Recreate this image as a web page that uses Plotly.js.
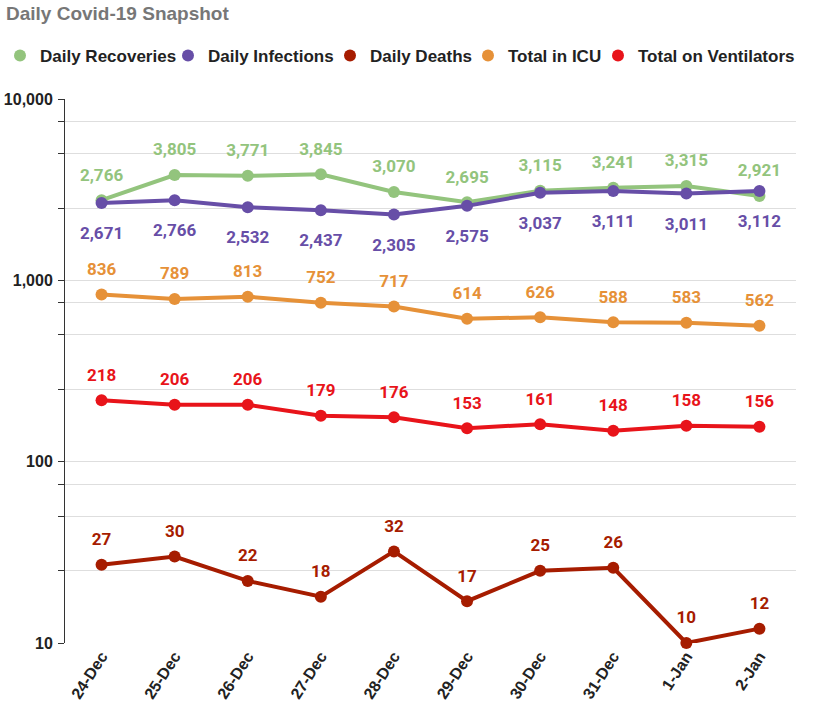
<!DOCTYPE html>
<html>
<head>
<meta charset="utf-8">
<script src="https://cdn.plot.ly/plotly-3.0.1.min.js"></script>
<style>html,body{margin:0;padding:0;background:#fff;}#chart{width:820px;height:714px;}</style>
</head>
<body>
<div id="chart"></div>
<script>
const dates = ["24-Dec","25-Dec","26-Dec","27-Dec","28-Dec","29-Dec","30-Dec","31-Dec","1-Jan","2-Jan"];
const recoveries = [2766,3805,3771,3845,3070,2695,3115,3241,3315,2921];
const infections = [2671,2766,2532,2437,2305,2575,3037,3111,3011,3112];
const deaths = [27,30,22,18,32,17,25,26,10,12];
const icu = [836,789,813,752,717,614,626,588,583,562];
const ventilators = [218,206,206,179,176,153,161,148,158,156];
const seriesNames = ['Daily Recoveries','Daily Infections','Daily Deaths','Total in ICU','Total on Ventilators'];
const seriesColors = ['#93c47d','#674ea7','#a61c00','#e69138','#e8141a'];
const yTickVals = [10,25,50,75,100,250,500,750,1000,2500,5000,7500,10000];
const yTickText = ["10","","","","100","","","","1,000","","","","10,000"];

const labelFont = "Roboto, 'Liberation Sans', Arial, sans-serif";
const allY = [recoveries, infections, deaths, icu, ventilators];
const positions = ['top center','bottom center','top center','top center','top center'];
const traces = [];
// lines + markers
allY.forEach((y, i) => {
  traces.push({
    type: 'scatter', mode: 'lines+markers', name: seriesNames[i], showlegend: false,
    x: dates, y: y,
    line: {color: seriesColors[i], width: 4},
    marker: {color: seriesColors[i], size: 12},
    cliponaxis: false
  });
});
// value labels
allY.forEach((y, i) => {
  const below = positions[i].startsWith('bottom');
  traces.push({
    type: 'scatter', mode: 'markers+text', name: seriesNames[i] + ' labels', showlegend: false, hoverinfo: 'skip',
    x: dates, y: y,
    marker: {color: seriesColors[i], size: below ? 36 : 23, opacity: 0},
    texttemplate: '%{y:,}',
    textposition: positions[i],
    textfont: {family: labelFont, size: 17, color: seriesColors[i], weight: 'bold'},
    cliponaxis: false
  });
});
// legend entries (one legend per entry for exact placement)
const legendX = [0, 168, 330, 468, 598];
const legends = {};
seriesNames.forEach((n, i) => {
  const key = i === 0 ? 'legend' : 'legend' + (i + 1);
  traces.push({
    type: 'scatter', mode: 'markers', name: n, x: [null], y: [null],
    marker: {color: seriesColors[i], size: 12},
    showlegend: true, legend: key, hoverinfo: 'skip'
  });
  legends[key] = {orientation: 'h', xref: 'container', yref: 'container', x: legendX[i] / 820, xanchor: 'left',
                  y: 1 - 56 / 714, yanchor: 'middle', bgcolor: 'rgba(0,0,0,0)',
                  font: {size: 17, color: '#222', weight: 'bold'}, itemwidth: 30};
});

const layout = Object.assign({
  width: 820, height: 714,
  margin: {l: 65, r: 24, t: 99, b: 71},
  paper_bgcolor: '#fff', plot_bgcolor: '#fff',
  font: {family: "'Liberation Sans', Arial, sans-serif", color: '#222'},
  title: {text: 'Daily Covid-19 Snapshot', x: 6/820, xanchor: 'left', xref: 'container', y: 1 - 13/714, yanchor: 'middle', yref: 'container',
          font: {size: 19, color: '#777', weight: 'bold'}},
  showlegend: true,
  xaxis: {type: 'category', range: [-0.5, 9.5], showgrid: false, zeroline: false, showline: false,
          ticks: '', tickangle: -57, tickfont: {size: 16, color: '#222', weight: 'bold'}},
  yaxis: {type: 'log', range: [1, 4], tickmode: 'array', tickvals: yTickVals, ticktext: yTickText,
          showgrid: true, gridcolor: '#dedede', gridwidth: 1, zeroline: false,
          showline: true, linecolor: '#333', linewidth: 1,
          ticks: 'outside', ticklen: 6, tickcolor: '#333', ticklabelstandoff: 2,
          tickfont: {size: 16, color: '#222', weight: 'bold'}}
}, legends);
Plotly.newPlot('chart', traces, layout, {displayModeBar: false, responsive: false});
</script>
</body>
</html>
